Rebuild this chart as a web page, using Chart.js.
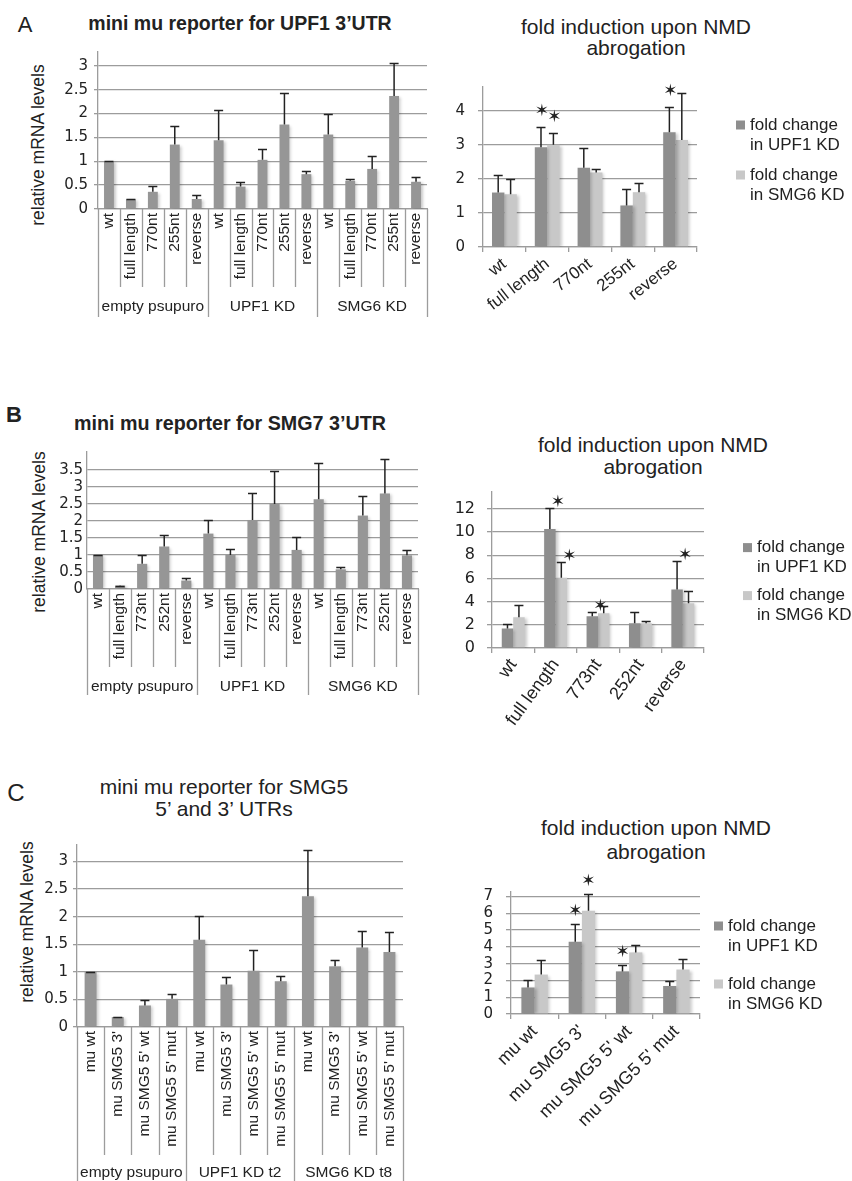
<!DOCTYPE html>
<html>
<head>
<meta charset="utf-8">
<title>mini mu reporters – fold induction upon NMD abrogation</title>
<script src="https://cdn.jsdelivr.net/npm/chart.js@4.4.1/dist/chart.umd.min.js"></script>
<style>
  html, body { margin: 0; padding: 0; background: #fff; }
  #fig { position: relative; width: 852px; height: 1181px; overflow: hidden;
         font-family: 'Liberation Sans', Arial, sans-serif; color: #222; }
  #fig canvas { position: absolute; }
  .txt { position: absolute; white-space: nowrap; text-align: center; transform: translate(-50%, -50%); }
  .ytitle { font-size: 17.5px; transform: translate(-50%, -50%) rotate(-90deg); }
  .fold { font-size: 21px; line-height: 22px; }
</style>
</head>
<body>
<div id="fig">
  <!-- A -->
  <div class="txt" style="left:25px;top:25px;font-size:22px">A</div>
  <div class="txt" style="left:240px;top:23px;font-size:19.5px;font-weight:bold">mini mu reporter for UPF1 3’UTR</div>
  <div class="txt ytitle" style="left:38px;top:145px">relative mRNA levels</div>
  <div class="txt fold" style="left:636px;top:37px;line-height:21px">fold induction upon NMD<br>abrogation</div>
  <canvas id="aLevels" width="440" height="320" style="left:0;top:0"></canvas>
  <canvas id="aFold" width="412" height="260" style="left:440px;top:60px"></canvas>

  <!-- B -->
  <div class="txt" style="left:14px;top:415px;font-size:22px;font-weight:bold">B</div>
  <div class="txt" style="left:230px;top:423px;font-size:19.7px;font-weight:bold">mini mu reporter for SMG7 3’UTR</div>
  <div class="txt ytitle" style="left:39px;top:532px">relative mRNA levels</div>
  <div class="txt fold" style="left:653px;top:456px">fold induction upon NMD<br>abrogation</div>
  <canvas id="bLevels" width="430" height="300" style="left:0;top:400px"></canvas>
  <canvas id="bFold" width="422" height="270" style="left:430px;top:470px"></canvas>

  <!-- C -->
  <div class="txt" style="left:16px;top:793px;font-size:24px">C</div>
  <div class="txt" style="left:224px;top:798px;font-size:21px;line-height:22px">mini mu reporter for SMG5<br>5’ and 3’ UTRs</div>
  <div class="txt ytitle" style="left:27px;top:922px">relative mRNA levels</div>
  <div class="txt fold" style="left:656px;top:840px;line-height:24px">fold induction upon NMD<br>abrogation</div>
  <canvas id="cLevels" width="420" height="421" style="left:0;top:760px"></canvas>
  <canvas id="cFold" width="412" height="311" style="left:440px;top:870px"></canvas>
</div>

<script>
/* ═══ data ═══ */

/* A: mini mu reporter for UPF1 3'UTR */
var A_LABELS = ['wt', 'full length', '770nt', '255nt', 'reverse',
                'wt', 'full length', '770nt', '255nt', 'reverse',
                'wt', 'full length', '770nt', '255nt', 'reverse'];
var A_GROUPS      = ['empty psupuro', 'UPF1 KD', 'SMG6 KD'];
var A_GROUP_SIZES = [5, 5, 5];
var A_LEVELS      = [1.00, 0.20, 0.36, 1.35, 0.21, 1.44, 0.47, 1.03, 1.77, 0.73, 1.56, 0.59, 0.84, 2.37, 0.57];
var A_LEVELS_SD   = [0.00, 0.00, 0.13, 0.39, 0.08, 0.63, 0.09, 0.23, 0.66, 0.07, 0.43, 0.03, 0.28, 0.69, 0.10];
var A_LEVEL_TICKS = [0, 0.5, 1, 1.5, 2, 2.5, 3];

var A_FOLD_LABELS  = ['wt', 'full length', '770nt', '255nt', 'reverse'];
var A_FOLD_UPF1    = [1.60, 2.93, 2.33, 1.22, 3.37];
var A_FOLD_UPF1_SD = [0.52, 0.60, 0.59, 0.48, 0.75];
var A_FOLD_SMG6    = [1.55, 3.00, 2.19, 1.61, 3.14];
var A_FOLD_SMG6_SD = [0.44, 0.34, 0.11, 0.26, 1.37];
var A_STAR_UPF1    = [0, 1, 0, 0, 1];
var A_STAR_SMG6    = [0, 1, 0, 0, 0];
var A_FOLD_TICKS   = [0, 1, 2, 3, 4];

/* B: mini mu reporter for SMG7 3'UTR */
var B_LABELS = ['wt', 'full length', '773nt', '252nt', 'reverse',
                'wt', 'full length', '773nt', '252nt', 'reverse',
                'wt', 'full length', '773nt', '252nt', 'reverse'];
var B_GROUPS      = ['empty psupuro', 'UPF1 KD', 'SMG6 KD'];
var B_GROUP_SIZES = [5, 5, 5];
var B_LEVELS      = [1.00, 0.10, 0.74, 1.25, 0.25, 1.63, 1.00, 2.03, 2.50, 1.15, 2.64, 0.58, 2.16, 2.81, 0.99];
var B_LEVELS_SD   = [0.00, 0.00, 0.26, 0.35, 0.07, 0.41, 0.18, 0.79, 0.97, 0.37, 1.06, 0.08, 0.58, 1.02, 0.17];
var B_LEVEL_TICKS = [0, 0.5, 1, 1.5, 2, 2.5, 3, 3.5];

var B_FOLD_LABELS  = ['wt', 'full length', '773nt', '252nt', 'reverse'];
var B_FOLD_UPF1    = [1.68, 10.27, 2.74, 2.13, 5.05];
var B_FOLD_UPF1_SD = [0.39, 1.78, 0.40, 0.95, 2.42];
var B_FOLD_SMG6    = [2.66, 6.06, 3.00, 2.13, 3.86];
var B_FOLD_SMG6_SD = [1.09, 1.39, 0.64, 0.16, 1.06];
var B_STAR_UPF1    = [0, 1, 1, 0, 1];
var B_STAR_SMG6    = [0, 1, 0, 0, 0];
var B_FOLD_TICKS   = [0, 2, 4, 6, 8, 10, 12];

/* C: mini mu reporter for SMG5 5' and 3' UTRs */
var C_LABELS = ['mu wt', "mu SMG5 3'", "mu SMG5 5' wt", "mu SMG5 5' mut",
                'mu wt', "mu SMG5 3'", "mu SMG5 5' wt", "mu SMG5 5' mut",
                'mu wt', "mu SMG5 3'", "mu SMG5 5' wt", "mu SMG5 5' mut"];
var C_GROUPS      = ['empty psupuro', 'UPF1 KD t2', 'SMG6 KD t8'];
var C_GROUP_SIZES = [4, 4, 4];
var C_LEVELS      = [1.00, 0.18, 0.39, 0.51, 1.58, 0.77, 1.02, 0.83, 2.37, 1.10, 1.44, 1.36];
var C_LEVELS_SD   = [0.00, 0.00, 0.10, 0.08, 0.44, 0.14, 0.37, 0.09, 0.84, 0.12, 0.30, 0.36];
var C_LEVEL_TICKS = [0, 0.5, 1, 1.5, 2, 2.5, 3];

var C_FOLD_LABELS  = ['mu wt', "mu SMG5 3'", "mu SMG5 5' wt", "mu SMG5 5' mut"];
var C_FOLD_UPF1    = [1.58, 4.31, 2.54, 1.67];
var C_FOLD_UPF1_SD = [0.44, 1.04, 0.36, 0.31];
var C_FOLD_SMG6    = [2.35, 6.15, 3.67, 2.65];
var C_FOLD_SMG6_SD = [0.88, 1.00, 0.46, 0.60];
var C_STAR_UPF1    = [0, 1, 1, 0];
var C_STAR_SMG6    = [0, 1, 0, 0];
var C_FOLD_TICKS   = [0, 1, 2, 3, 4, 5, 6, 7];

var LEGEND_UPF1 = ['fold change', 'in UPF1 KD'];
var LEGEND_SMG6 = ['fold change', 'in SMG6 KD'];

/* ═══ look ═══ */
var FONT      = "'Liberation Sans', Arial, sans-serif";
var TICK_FONT = "'DejaVu Sans', sans-serif";
var INK   = '#222222';
var GRID  = '#9c9c9c';
var BAR   = '#969696';
var DARK  = '#8e8e8e';
var LIGHT = '#c8c8c8';

/* ── bar shadow + error bars + stars ── */
var barDecor = {
  id: 'barDecor',
  beforeDatasetsDraw: function (chart) {
    var c = chart.ctx;
    c.save();
    c.shadowColor = 'rgba(0,0,0,0.22)';
    c.shadowBlur = 3;
    c.shadowOffsetX = 2;
    c.shadowOffsetY = 1;
  },
  afterDatasetsDraw: function (chart, args, opts) {
    var c = chart.ctx, y = chart.scales.y;
    c.restore();
    c.save();
    c.strokeStyle = INK;
    c.fillStyle = INK;
    c.lineWidth = 1.5;
    c.font = '17px ' + TICK_FONT;
    c.textAlign = 'center';
    c.textBaseline = 'middle';
    chart.data.datasets.forEach(function (ds, di) {
      chart.getDatasetMeta(di).data.forEach(function (bar, i) {
        var top = Math.round(y.getPixelForValue(ds.data[i] + ds.sd[i])) + 0.5;
        c.beginPath();
        c.moveTo(bar.x, bar.y);
        c.lineTo(bar.x, top);
        c.moveTo(bar.x - 4.5, top);
        c.lineTo(bar.x + 4.5, top);
        c.stroke();
        if (ds.star && ds.star[i]) c.fillText('✶', bar.x + (opts.starDx || 0), top - (opts.starDy || 0));
      });
    });
    c.restore();
  }
};

/* ── category dividers + group row under the x axis ── */
var groupAxis = {
  id: 'groupAxis',
  afterDraw: function (chart, args, opts) {
    if (!opts.groups) return;
    var x = chart.scales.x, c = chart.ctx;
    var half = (x.getPixelForValue(1) - x.getPixelForValue(0)) / 2;
    var bounds = [0], acc = 0;
    opts.sizes.forEach(function (s) { acc += s; bounds.push(acc); });
    c.save();
    c.strokeStyle = GRID;
    c.lineWidth = 1.3;
    for (var i = 0; i <= chart.data.labels.length; i++) {
      var px = Math.round(x.getPixelForValue(i) - half) + 0.5;
      var isGroup = bounds.indexOf(i) >= 0;
      c.beginPath();
      c.moveTo(px, x.top);
      c.lineTo(px, x.bottom + (isGroup ? opts.lineDown : 0));
      c.stroke();
    }
    c.fillStyle = INK;
    c.font = '15.5px ' + FONT;
    c.textAlign = 'center';
    c.textBaseline = 'middle';
    opts.groups.forEach(function (g, k) {
      var xs = x.getPixelForValue(bounds[k]) - half;
      var xe = x.getPixelForValue(bounds[k + 1]) - half;
      c.fillText(g, (xs + xe) / 2, x.bottom + opts.labelDown);
    });
    c.restore();
  }
};

/* ── two-line legend at the right of the fold charts ── */
var sideLegend = {
  id: 'sideLegend',
  afterDraw: function (chart, args, opts) {
    if (!opts.items) return;
    var c = chart.ctx, a = chart.chartArea;
    var bx = a.right + opts.dx;
    c.save();
    c.font = '17px ' + FONT;
    c.textBaseline = 'middle';
    opts.items.forEach(function (lines, k) {
      var y0 = a.top + opts.dy + k * opts.gap;
      c.fillStyle = chart.data.datasets[k].backgroundColor;
      c.fillRect(bx, y0 - 4.5, 9, 9);
      c.fillStyle = INK;
      lines.forEach(function (t, j) { c.fillText(t, bx + 14, y0 + j * 20); });
    });
    c.restore();
  }
};

function tickList(list) {
  return function (scale) { scale.ticks = list.map(function (v) { return { value: v }; }); };
}

/* ── relative mRNA level charts (left column) ── */
function levelsChart(id, cfg) {
  return new Chart(document.getElementById(id), {
    type: 'bar',
    data: {
      labels: cfg.labels,
      datasets: [{ data: cfg.values, sd: cfg.sd, backgroundColor: BAR,
                   barPercentage: cfg.barPct, categoryPercentage: 1 }]
    },
    plugins: [barDecor, groupAxis],
    options: {
      responsive: false, animation: false,
      layout: { padding: cfg.padding },
      plugins: {
        legend: { display: false }, tooltip: { enabled: false },
        groupAxis: { groups: cfg.groups, sizes: cfg.sizes, lineDown: cfg.lineDown, labelDown: cfg.labelDown }
      },
      scales: {
        x: {
          offset: true,
          grid: { display: false, drawTicks: false },
          border: { color: GRID, width: 1.3 },
          ticks: { minRotation: 90, maxRotation: 90, autoSkip: false, padding: 4, color: INK,
                   font: { family: FONT, size: 15.5 } },
          afterFit: function (s) { s.height = cfg.xHeight; }
        },
        y: {
          min: 0, max: cfg.max,
          grid: { color: GRID, lineWidth: 1.3, tickLength: cfg.tickLen },
          border: { color: GRID, width: 1.3 },
          afterBuildTicks: tickList(cfg.ticks),
          ticks: { autoSkip: false, padding: cfg.tickPad, color: INK, font: { family: TICK_FONT, size: 15 },
                   callback: function (v) { return String(v); } },
          afterFit: function (s) { s.width = cfg.yWidth; }
        }
      }
    }
  });
}

/* ── fold induction charts (right column) ── */
function foldChart(id, cfg) {
  return new Chart(document.getElementById(id), {
    type: 'bar',
    data: {
      labels: cfg.labels,
      datasets: [
        { label: LEGEND_UPF1.join(' '), data: cfg.upf1, sd: cfg.upf1Sd, star: cfg.upf1Star,
          backgroundColor: DARK, barPercentage: 1, categoryPercentage: cfg.catPct },
        { label: LEGEND_SMG6.join(' '), data: cfg.smg6, sd: cfg.smg6Sd, star: cfg.smg6Star,
          backgroundColor: LIGHT, barPercentage: 1, categoryPercentage: cfg.catPct }
      ]
    },
    plugins: [barDecor, sideLegend],
    options: {
      responsive: false, animation: false,
      layout: { padding: cfg.padding },
      plugins: {
        legend: { display: false }, tooltip: { enabled: false },
        barDecor: { starDx: cfg.starDx, starDy: cfg.starDy },
        sideLegend: { items: [LEGEND_UPF1, LEGEND_SMG6], dx: cfg.legDx, dy: cfg.legDy, gap: cfg.legGap }
      },
      scales: {
        x: {
          offset: true,
          grid: { offset: true, drawOnChartArea: false, tickLength: 5, color: GRID, lineWidth: 1.3 },
          border: { color: GRID, width: 1.3 },
          ticks: { minRotation: cfg.rot, maxRotation: cfg.rot, autoSkip: false, padding: 2, color: INK,
                   font: { family: FONT, size: cfg.labelSize } },
          afterFit: function (s) { s.height = cfg.xHeight; }
        },
        y: {
          min: 0, max: cfg.max,
          grid: { color: GRID, lineWidth: 1.3, tickLength: 5 },
          border: { color: GRID, width: 1.3 },
          afterBuildTicks: tickList(cfg.ticks),
          ticks: { autoSkip: false, padding: cfg.tickPad, color: INK, font: { family: TICK_FONT, size: cfg.tickSize },
                   callback: function (v) { return String(v); } },
          afterFit: function (s) { s.width = cfg.yWidth; }
        }
      }
    }
  });
}

/* ── A ── */
levelsChart('aLevels', {
  labels: A_LABELS, values: A_LEVELS, sd: A_LEVELS_SD, ticks: A_LEVEL_TICKS,
  groups: A_GROUPS, sizes: A_GROUP_SIZES, max: 3.29, barPct: 0.45,
  padding: { left: 0, right: 13, top: 52, bottom: 33 }, yWidth: 98, xHeight: 78,
  tickLen: 4, tickPad: 6, lineDown: 30, labelDown: 20
});
foldChart('aFold', {
  labels: A_FOLD_LABELS, upf1: A_FOLD_UPF1, upf1Sd: A_FOLD_UPF1_SD, upf1Star: A_STAR_UPF1,
  smg6: A_FOLD_SMG6, smg6Sd: A_FOLD_SMG6_SD, smg6Star: A_STAR_SMG6, ticks: A_FOLD_TICKS,
  max: 4.7, catPct: 0.58, rot: 38, labelSize: 17, tickSize: 15,
  padding: { left: 0, right: 155, top: 27, bottom: 0 }, yWidth: 43, xHeight: 73, tickPad: 13,
  starDx: 1, starDy: 16, legDx: 39, legDy: 38, legGap: 50
});

/* ── B ── */
levelsChart('bLevels', {
  labels: B_LABELS, values: B_LEVELS, sd: B_LEVELS_SD, ticks: B_LEVEL_TICKS,
  groups: B_GROUPS, sizes: B_GROUP_SIZES, max: 4.03, barPct: 0.46,
  padding: { left: 0, right: 12, top: 52, bottom: 33 }, yWidth: 87, xHeight: 78,
  tickLen: 0, tickPad: 4, lineDown: 28, labelDown: 20
});
foldChart('bFold', {
  labels: B_FOLD_LABELS, upf1: B_FOLD_UPF1, upf1Sd: B_FOLD_UPF1_SD, upf1Star: B_STAR_UPF1,
  smg6: B_FOLD_SMG6, smg6Sd: B_FOLD_SMG6_SD, smg6Star: B_STAR_SMG6, ticks: B_FOLD_TICKS,
  max: 13.5, catPct: 0.54, rot: 54, labelSize: 18, tickSize: 16,
  padding: { left: 0, right: 148, top: 9, bottom: 0 }, yWidth: 62, xHeight: 92, tickPad: 12,
  starDx: 8, starDy: 6, legDx: 39, legDy: 56, legGap: 48
});

/* ── C ── */
levelsChart('cLevels', {
  labels: C_LABELS, values: C_LEVELS, sd: C_LEVELS_SD, ticks: C_LEVEL_TICKS,
  groups: C_GROUPS, sizes: C_GROUP_SIZES, max: 3.3, barPct: 0.44,
  padding: { left: 0, right: 17, top: 85, bottom: 26 }, yWidth: 77, xHeight: 128,
  tickLen: 4, tickPad: 5, lineDown: 40, labelDown: 18
});
foldChart('cFold', {
  labels: C_FOLD_LABELS, upf1: C_FOLD_UPF1, upf1Sd: C_FOLD_UPF1_SD, upf1Star: C_STAR_UPF1,
  smg6: C_FOLD_SMG6, smg6Sd: C_FOLD_SMG6_SD, smg6Star: C_STAR_SMG6, ticks: C_FOLD_TICKS,
  max: 7.27, catPct: 0.56, rot: 45, labelSize: 18, tickSize: 15,
  padding: { left: 0, right: 152, top: 18, bottom: 0 }, yWidth: 71, xHeight: 167, tickPad: 13,
  starDx: 0, starDy: 13, legDx: 14, legDy: 34, legGap: 58
});
</script>
</body>
</html>
